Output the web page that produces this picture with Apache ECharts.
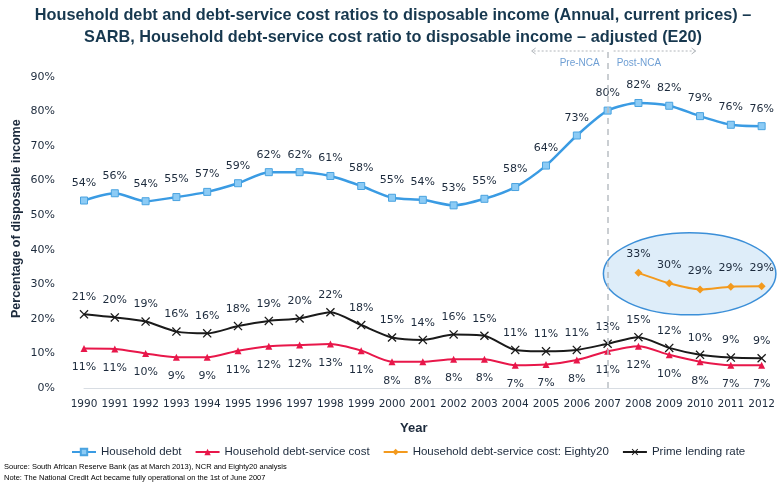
<!DOCTYPE html>
<html>
<head>
<meta charset="utf-8">
<script src="https://cdn.jsdelivr.net/npm/echarts@6/dist/echarts.min.js"></script>
<style>
  html, body { margin: 0; padding: 0; background: #fff; }
  #chart { width: 778px; height: 486px; }
</style>
</head>
<body>
<div id="chart"></div>
<script>
// data
const years = ['1990','1991','1992','1993','1994','1995','1996','1997','1998','1999','2000',
  '2001','2002','2003','2004','2005','2006','2007','2008','2009','2010','2011','2012'];
const householdDebt = [54.2,56.3,54.0,55.2,56.7,59.2,62.4,62.4,61.3,58.4,55.0,
  54.4,52.8,54.7,58.1,64.3,73.0,80.2,82.4,81.6,78.6,76.1,75.7];
const debtService = [11.4,11.3,10.0,8.9,8.9,10.8,12.1,12.4,12.7,10.8,7.6,
  7.6,8.3,8.3,6.6,6.8,8.1,10.6,12.1,9.6,7.6,6.6,6.6];
const debtServiceE20 = [null,null,null,null,null,null,null,null,null,null,null,
  null,null,null,null,null,null,null,33.3,30.3,28.5,29.3,29.4];
const primeRate = [21.3,20.4,19.2,16.3,15.8,17.9,19.4,20.1,21.9,18.2,14.6,
  13.9,15.5,15.1,11.0,10.6,11.0,12.8,14.7,11.6,9.6,8.8,8.6];

const ncaYear = '2007';
const txt = '#1c2a3c';
const lblFont = 'DejaVu Sans';

const pct = (p) => Math.round(p.value) + '%';

const chart = echarts.init(document.getElementById('chart'));

const option = {
  animation: false,
  textStyle: { fontFamily: lblFont },
  title: [
    {
      text: 'Household debt and debt-service cost ratios to disposable income (Annual, current prices) \u2013\nSARB, Household debt-service cost ratio to disposable income \u2013 adjusted (E20)',
      left: 388,
      top: 0,
      textAlign: 'center',
      textStyle: { fontFamily: 'Liberation Sans', fontWeight: 'bold', fontSize: 16.3, color: '#17384f', lineHeight: 22 }
    },
    {
      text: 'Year',
      left: 395, top: 417,
      textStyle: { fontFamily: 'Liberation Sans', fontWeight: 'bold', fontSize: 13, color: txt }
    }
  ],
  legend: {
    top: 441, left: 66,
    itemWidth: 24, itemHeight: 8, itemGap: 13,
    textStyle: { fontFamily: 'Liberation Sans', fontSize: 11.5, color: txt },
    data: ['Household debt','Household debt-service cost','Household debt-service cost: Eighty20','Prime lending rate']
  },
  grid: { left: 84, right: 13, top: 76.7, bottom: 98 },
  xAxis: {
    type: 'category',
    data: years,
    boundaryGap: false,
    axisLine: { lineStyle: { color: '#d8dde3', width: 1 } },
    axisTick: { show: false },
    axisLabel: { color: txt, fontSize: 10.5, margin: 11, interval: 0, fontFamily: lblFont }
  },
  yAxis: {
    type: 'value',
    min: 0, max: 90, interval: 10,
    splitLine: { show: false },
    axisLine: { show: false },
    axisTick: { show: false },
    axisLabel: { color: txt, fontSize: 11, margin: 29, fontFamily: lblFont, formatter: '{value}%' }
  },
  series: [
    {
      name: 'Household debt',
      type: 'line',
      data: householdDebt,
      smooth: 0.25,
      symbol: 'rect', symbolSize: 7,
      lineStyle: { color: '#3a9be3', width: 2.5 },
      itemStyle: { color: '#8ccbf5', borderColor: '#4aa3e0', borderWidth: 1 },
      label: { show: true, position: 'top', distance: 8, formatter: pct, color: txt, fontSize: 11, fontFamily: lblFont },
      markLine: {
        silent: true, symbol: 'none',
        label: { show: false },
        lineStyle: { color: '#b9bec4', type: [6, 5], width: 1.5 },
        data: [[
          { xAxis: ncaYear, y: 52 },
          { xAxis: ncaYear, y: 389 }
        ]]
      }
    },
    {
      name: 'Household debt-service cost',
      type: 'line',
      data: debtService,
      smooth: 0.25,
      symbol: 'triangle', symbolSize: 7,
      lineStyle: { color: '#e8174a', width: 2 },
      itemStyle: { color: '#e8174a' },
      label: { show: true, position: 'bottom', distance: 10, formatter: pct, color: txt, fontSize: 11, fontFamily: lblFont }
    },
    {
      name: 'Household debt-service cost: Eighty20',
      type: 'line',
      data: debtServiceE20,
      smooth: 0.25,
      symbol: 'diamond', symbolSize: 8,
      lineStyle: { color: '#f39a1e', width: 2 },
      itemStyle: { color: '#f39a1e' },
      label: { show: true, position: 'top', distance: 9, formatter: pct, color: txt, fontSize: 11, fontFamily: lblFont },
      z: 4
    },
    {
      name: 'Prime lending rate',
      type: 'line',
      data: primeRate,
      smooth: 0.25,
      symbol: 'path://M0,1L1,0L5,4L9,0L10,1L6,5L10,9L9,10L5,6L1,10L0,9L4,5Z',
      symbolSize: 9,
      lineStyle: { color: '#1a1a1a', width: 2 },
      itemStyle: { color: '#1a1a1a' },
      label: { show: true, position: 'top', distance: 7, formatter: pct, color: txt, fontSize: 11, fontFamily: lblFont }
    }
  ]
};

chart.setOption(option);

// annotations placed from the axes: NCA marker labels and the highlight ellipse
const xNca = chart.convertToPixel({ xAxisIndex: 0 }, ncaYear);
const x09 = chart.convertToPixel({ xAxisIndex: 0 }, '2009');
const x10 = chart.convertToPixel({ xAxisIndex: 0 }, '2010');
const step = x10 - x09;
const yTop = chart.convertToPixel({ yAxisIndex: 0 }, 33);
const arrowStroke = { stroke: '#b0b5ba', lineWidth: 1, fill: null };

chart.setOption({
  graphic: [
    {
      type: 'ellipse', z: 0, silent: true,
      shape: { cx: (x09 + x10) / 2 + 5, cy: yTop, rx: step * 2.8, ry: 41 },
      style: { fill: '#deedf9', stroke: '#3b8fd8', lineWidth: 1.5 }
    },
    {
      type: 'text', silent: true, rotation: Math.PI / 2, x: 10, y: 318,
      style: { text: 'Percentage of disposable income', fill: txt, font: 'bold 12.5px Liberation Sans', textAlign: 'left', textVerticalAlign: 'top' }
    },
    {
      type: 'text', silent: true, x: xNca - 8, y: 58,
      style: { text: 'Pre-NCA', fill: '#6f9fd4', font: '10px Liberation Sans', textAlign: 'right' }
    },
    {
      type: 'text', silent: true, x: xNca + 9, y: 58,
      style: { text: 'Post-NCA', fill: '#6f9fd4', font: '10px Liberation Sans', textAlign: 'left' }
    },
    {
      type: 'line', silent: true,
      shape: { x1: xNca - 4, y1: 51, x2: xNca - 76, y2: 51 },
      style: { stroke: '#b0b5ba', lineWidth: 1, lineDash: [2, 2] }
    },
    {
      type: 'polyline', silent: true,
      shape: { points: [[xNca - 72, 48], [xNca - 76, 51], [xNca - 72, 54]] },
      style: arrowStroke
    },
    {
      type: 'line', silent: true,
      shape: { x1: xNca + 6, y1: 51, x2: xNca + 88, y2: 51 },
      style: { stroke: '#b0b5ba', lineWidth: 1, lineDash: [2, 2] }
    },
    {
      type: 'polyline', silent: true,
      shape: { points: [[xNca + 84, 48], [xNca + 88, 51], [xNca + 84, 54]] },
      style: arrowStroke
    },
    {
      type: 'text', silent: true, x: 4, y: 461,
      style: {
        text: 'Source: South African Reserve Bank (as at March 2013), NCR and Eighty20 analysis\nNote: The National Credit Act became fully operational on the 1st of June 2007',
        fill: '#000', font: '7.5px Liberation Sans', lineHeight: 11
      }
    }
  ]
});
</script>
</body>
</html>
